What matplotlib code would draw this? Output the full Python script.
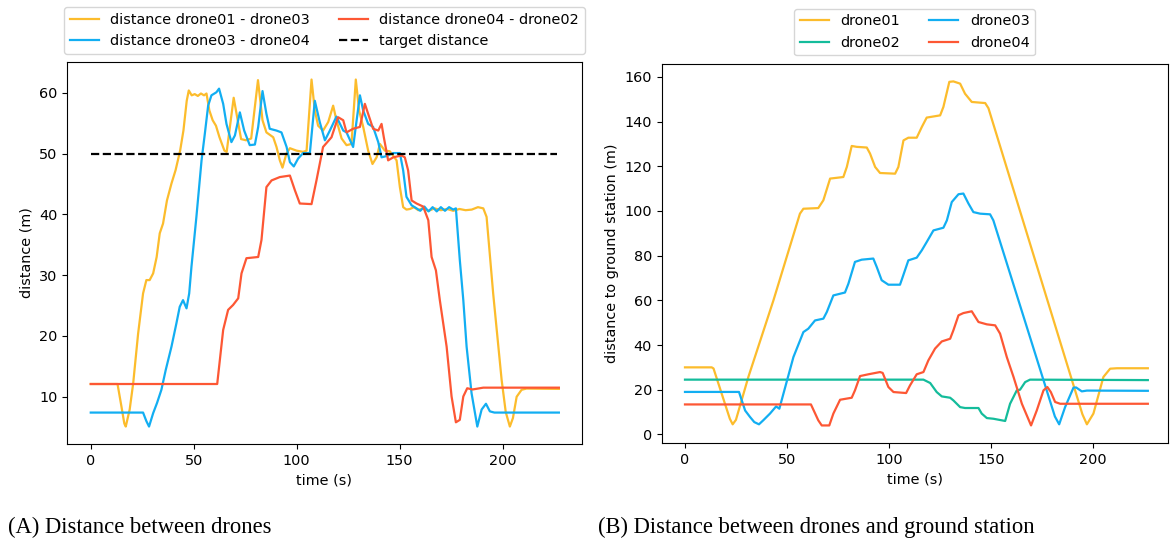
import matplotlib
matplotlib.use("Agg")
import matplotlib.pyplot as plt

plt.rcParams['font.size'] = 10.4

# colours
c_yellow = '#fcbc2c'
c_blue = '#12aef2'
c_red = '#fd5734'
c_green = '#14bc9b'

# ---- (A) distance between drones ----
t_13 = [0, 13, 14.9, 16.3, 17, 18.9, 20.6, 23.0, 25.4, 27, 28.6, 30.3, 32, 33.5, 35.1, 37, 39.2, 41.2,
        43.4, 45, 46.6, 47.6, 49, 50.5, 52, 53.5, 55, 56.2, 57.6, 59.2, 60.8, 62.5, 64.9, 66, 69.4, 73,
        75.4, 77.9, 81.2, 83.4, 85.3, 88.6, 90.2, 91.8, 93.1, 95, 96.7, 99.9, 103.1, 104.8, 107.2, 108.8,
        110.4, 112.8, 115.3, 117.7, 119.3, 121.8, 124.2, 126.6, 128.7, 130.3, 132.3, 134.7, 136.8, 138.8,
        140.4, 142.8, 145.2, 148.5, 150.1, 151.7, 153.3, 155, 157, 159, 161, 164, 167, 170, 173, 176, 179,
        182, 185, 188, 190.6, 192.2, 195.4, 199.5, 201.5, 203.5, 205, 206.8, 209.2, 211.6, 227.3]
d_13 = [12.1, 12.1, 8.4, 5.6, 5.1, 7.9, 12.2, 20.4, 27.0, 29.2, 29.2, 30.3, 33.0, 36.9, 38.5, 42.3, 45.1, 47.3,
        50.5, 53.8, 58.7, 60.4, 59.6, 59.8, 59.5, 59.9, 59.6, 59.9, 57.1, 55.5, 54.6, 52.7, 50.5, 50.3, 59.2, 52.4,
        52.2, 52.5, 62.1, 55.5, 53.5, 52.7, 51.1, 48.9, 47.7, 50.0, 50.9, 50.5, 50.3, 50.5, 62.2, 57.1,
        54.6, 53.8, 55.2, 57.9, 55.5, 52.5, 51.4, 51.6, 62.2, 57.1, 54.4, 50.5, 48.3, 49.4,
        51.6, 50.5, 50.4, 48.9, 44.5, 41.2, 40.8, 40.9, 41.2, 40.7, 41.0, 40.6, 41.0, 40.7, 40.9, 40.6, 40.9,
        40.7, 40.8, 41.2, 41.0, 39.6, 27.0, 12.8, 7.5, 5.1, 6.5, 10.0, 11.15, 11.35, 11.3]

t_34 = [0, 25.4, 27, 28.3, 30.3, 32.2, 34.3, 36.4, 39.2, 41.6, 43.2, 44.8, 46.5, 47.8, 48.9, 51.3, 53.8, 55.4,
        57.0, 58.6, 61.0, 62.3, 64.3, 65.9, 68.3, 70, 72.4, 74.5, 77.2, 79.7, 81.3, 83.4, 85.3, 86.9, 90.2,
        92.6, 95.1, 96.7, 98.6, 100.7, 103.1, 106.4, 108.8, 111.2, 113.7, 116.1, 119.3, 122.6, 124.2, 127.4,
        130.7, 132.3, 134.7, 137.1, 139.6, 141.2, 143.6, 146.9, 150.1, 151.7, 153.3, 155.8, 158.2, 160, 162,
        164, 166, 168, 170, 172, 174, 176, 177.3, 179.2, 180.9, 182.5, 184.9, 187.7, 189.8, 191.9, 193.8,
        196, 227.3]
d_34 = [7.4, 7.4, 6.0, 5.1, 7.3, 9.0, 11.15, 14.4, 18.25, 22.1, 24.8, 25.9, 24.55, 27.0, 31.4, 39.6, 48.9, 53.3,
        57.9, 59.6, 60.1, 60.7, 58.2, 54.9, 51.9, 53.0, 56.8, 53.8, 51.4, 51.5, 54.4, 60.3, 56.55, 54.1, 53.8,
        53.5, 51.1, 48.6, 47.9, 49.2, 50.1, 50.1, 58.7, 55.2, 52.2, 53.8, 56.1, 53.8, 53.5, 51.1,
        59.6, 57.1, 54.9, 54.4, 51.9, 49.4, 49.6, 50.1, 50.1, 47.25, 42.9, 41.5, 41.0, 40.6, 41.3,
        40.5, 41.2, 40.5, 41.2, 40.6, 41.2, 40.8, 41.0, 32.5, 25.9, 18.25, 10.6, 5.1, 7.9, 8.85, 7.6,
        7.4, 7.4]

t_42 = [0, 61.4, 64.3, 66.7, 69.1, 71.6, 73.2, 75.6, 81.3, 82.9, 85.3, 87.8, 91.8, 96.7, 99.1, 101.5, 107.2,
        109.6, 112.8, 116.9, 120.1, 122.6, 124.2, 127.4, 130.7, 133.1, 134.7, 137.1, 139.6, 141.2, 142.3,
        144.4, 146.9, 150.9, 152.5, 154.1, 155.8, 158.2, 161.4, 163.9, 165.5, 167.6, 169.5, 172.8, 175.2,
        177.3, 179.2, 180.9, 182.8, 185.4, 190.6, 227.3]
d_42 = [12.1, 12.1, 21.0, 24.3, 25.1, 26.2, 30.3, 32.8, 33.0, 35.8, 44.5, 45.6, 46.15, 46.4, 44.0, 41.8, 41.7,
        45.6, 51.1, 52.7, 56.0, 55.5, 53.5, 54.1, 54.4, 58.2, 56.55, 54.1, 53.8, 54.9, 52.7,
        48.9, 49.4, 49.7, 49.4, 47.25, 42.3, 41.8, 41.3, 39.05, 33.0, 30.8, 25.9, 18.25, 10.05,
        5.8, 6.2, 10.05, 11.4, 11.2, 11.5, 11.5]

t_target = [0, 226.5]
d_target = [50, 50]

# ---- (B) distance to ground station ----
t_g1 = [0, 13.1, 14, 22, 23.4, 25, 31.1, 43.4, 56.4, 58.1, 65.4, 67.9, 71.2, 77.7, 79.4, 81.8, 84.3, 89.2,
        90.8, 93.3, 95.7, 103.1, 104.7, 107.2, 109.6, 113.7, 116.2, 118.6, 125.2, 126.8, 129.7, 131.7, 135.0,
        137.4, 140.7, 147.3, 148.9, 195, 197.2, 200.4, 205.3, 208.6, 212, 227.1]
g_d1 = [30, 30, 29.5, 7, 4.5, 6.5, 25.7, 60, 98.8, 101, 101.3, 104.8, 114.5, 115.2, 119.7, 129.1, 128.7, 128.4,
        125.7, 119.7, 117, 116.7, 119.7, 131.6, 132.8, 132.8, 137.6, 141.8, 142.8, 146.6, 157.8, 158.0, 157.0,
        152.5, 148.8, 148.3, 146, 9, 4.5, 9.3, 25.7, 29.4, 29.6, 29.6]

t_g2 = [0, 117, 120.3, 123.5, 126, 130.1, 131.7, 135, 137.4, 144, 145.6, 148.1, 151.3, 157.1, 159.5, 162.8,
        164.4, 166.9, 169.3, 227.1]
g_d2 = [24.5, 24.5, 23.0, 18.95, 17.0, 16.4, 15.2, 12.2, 11.8, 11.8, 9.3, 7.3, 7.0, 6.0, 13.7, 19.7,
        20.0, 23.4, 24.5, 24.3]

t_g3 = [0, 26.5, 29.5, 31.9, 34, 36.3, 38.4, 41.7, 44.7, 46.3, 48.3, 53.2, 58.1, 60.5, 63.8, 67.9, 69.6, 72.8,
        78.5, 80.2, 83.4, 86.7, 92.4, 94.1, 96.5, 99.8, 105.5, 106.8, 109.6, 113.7, 116.2, 118.6, 121.9,
        126.8, 128.5, 130.9, 134.2, 136.6, 139.1, 141.5, 144.8, 149.7, 151.3, 181.5, 183.6, 186.5, 190.6,
        191.9, 194.7, 197.2, 227.1]
g_d3 = [19, 19, 10.7, 7.8, 5.5, 4.5, 6.3, 9.3, 12.5, 11.5, 18.2, 34.6, 45.8, 47.3, 51.0, 51.8, 54.8, 62.2,
        63.5, 67.5, 77.2, 78.2, 78.7, 74.9, 69.0, 67.0, 67.0, 70.4, 77.9, 79.1, 82.4, 86.1, 91.3,
        92.5, 95.8, 104.0, 107.5, 107.8, 103.3, 99.5, 98.8, 98.5, 95.8, 8, 4.5, 12.2, 20.9,
        21.0, 19.25, 19.6, 19.5]

t_g4 = [0, 61.8, 65.4, 67.1, 70.8, 72.8, 76.1, 81.8, 83.4, 85.9, 90, 95.7, 97, 99.8, 102.3, 108.5, 110.4,
        113.7, 117, 119.4, 122.7, 126, 130.1, 131.7, 134.2, 136.6, 140.7, 144, 148.1, 152.2, 154.6, 157.9,
        161.2, 165.3, 169.8, 172.6, 175.9, 177.8, 179.5, 181.6, 184.1, 227.1]
g_d4 = [13.4, 13.4, 6.3, 4.0, 4.0, 9.3, 15.5, 16.4, 19.7, 26.1, 26.9, 27.9, 27.5, 21.2, 18.95, 18.5, 21.9,
        26.9, 27.9, 33.1, 38.4, 41.6, 42.8, 46.6, 53.3, 54.3, 55.1, 50.3, 49.25, 48.8, 45.1, 34.6,
        25.7, 13.7, 4.0, 10.7, 19.7, 21.2, 18.95, 14.5, 13.7, 13.7]

fig = plt.figure(figsize=(11.7, 5.43), dpi=100)
ax1 = fig.add_axes([0.0575, 0.182, 0.4397, 0.704])
ax2 = fig.add_axes([0.5656, 0.184, 0.4327, 0.699])

lw = 1.6
ax1.plot(t_13, d_13, color=c_yellow, lw=lw, label='distance drone01 - drone03')
ax1.plot(t_34, d_34, color=c_blue, lw=lw, label='distance drone03 - drone04')
ax1.plot(t_42, d_42, color=c_red, lw=lw, label='distance drone04 - drone02')
ax1.plot(t_target, d_target, color='black', lw=lw, linestyle='--', label='target distance')
ax1.set_xlim(-11.4, 238.4)
ax1.set_ylim(2.2, 65.1)
ax1.set_xlabel('time (s)')
ax1.set_ylabel('distance (m)')
ax1.legend(loc='lower center', bbox_to_anchor=(0.5, 1.01), ncol=2, borderaxespad=0.3)

ax2.plot(t_g1, g_d1, color=c_yellow, lw=lw, label='drone01')
ax2.plot(t_g2, g_d2, color=c_green, lw=lw, label='drone02')
ax2.plot(t_g3, g_d3, color=c_blue, lw=lw, label='drone03')
ax2.plot(t_g4, g_d4, color=c_red, lw=lw, label='drone04')
ax2.set_xlim(-11.4, 237.0)
ax2.set_ylim(-3.9, 166)
ax2.set_xlabel('time (s)')
ax2.set_ylabel('distance to ground station (m)')
ax2.legend(loc='lower center', bbox_to_anchor=(0.5, 1.01), ncol=2, borderaxespad=0.3)

fig.text(0.007, 0.018, '(A) Distance between drones', family='Liberation Serif', fontsize=16.3)
fig.text(0.511, 0.018, '(B) Distance between drones and ground station', family='Liberation Serif', fontsize=16.3)

fig.savefig('out.png', dpi=100)
